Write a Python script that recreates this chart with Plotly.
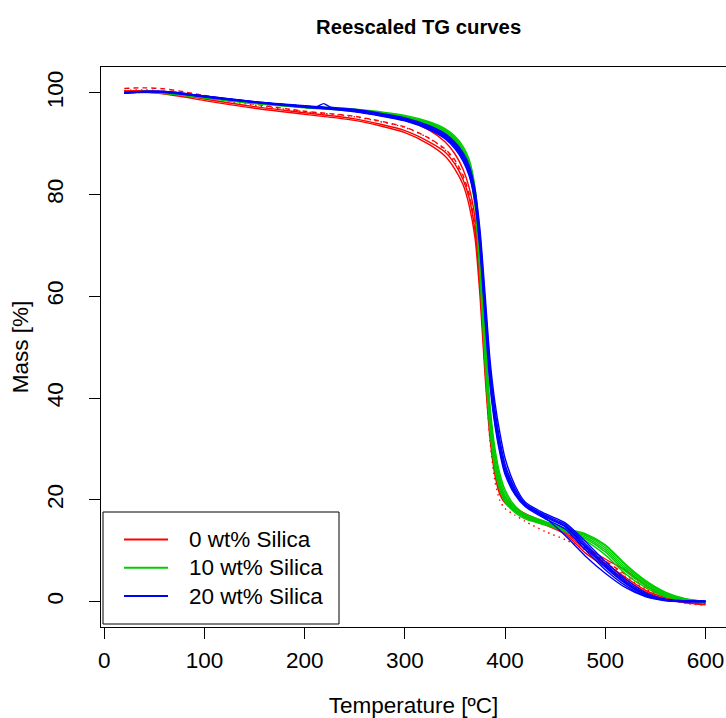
import plotly.graph_objects as go

# ---------------- data ----------------
temps = [20, 40, 60, 80, 100, 150, 200, 250, 300, 325, 340, 350, 358, 364, 370, 375,
         380, 385, 390, 395, 400, 410, 420, 440, 460, 480, 500, 520, 540, 560, 580, 600]

temps_bump = [20, 40, 60, 80, 100, 150, 200, 212, 219, 226, 250, 300, 325, 340, 350, 358,
              364, 370, 375, 380, 385, 390, 395, 400, 410, 420, 440, 460, 480, 500, 520,
              540, 560, 580, 600]

# 0 wt% Silica
red_a = [100.4, 100.4, 100.1, 99.5, 98.8, 97.3, 96.1, 94.9, 92.6, 90.3, 88.4, 86.0, 83.0, 79.5, 73.0, 62.0,
         46.5, 33.5, 25.5, 21.5, 19.8, 18.0, 16.8, 15.3, 13.6, 10.2, 7.5, 4.8, 2.3, 0.8, -0.1, -0.5]
red_b = [100.3, 100.2, 99.8, 99.2, 98.5, 97.0, 95.8, 94.6, 92.2, 89.8, 87.6, 85.0, 82.0, 78.0, 71.5, 60.0,
         44.5, 32.0, 24.8, 21.0, 19.4, 17.8, 16.6, 15.1, 13.3, 9.6, 6.9, 4.4, 2.0, 0.6, -0.2, -0.6]
red_c = [100.9, 101.0, 100.8, 100.2, 99.5, 97.8, 96.4, 95.4, 93.3, 91.0, 89.0, 86.8, 83.8, 80.2, 74.0, 63.0,
         47.5, 34.0, 26.0, 22.0, 20.2, 18.4, 17.1, 15.5, 13.8, 10.6, 8.0, 5.4, 2.8, 1.0, 0.1, -0.4]
red_d = [100.5, 100.6, 100.3, 99.8, 99.1, 97.6, 96.3, 95.3, 93.2, 91.0, 88.8, 86.4, 83.2, 79.6, 73.0, 61.5,
         45.5, 31.5, 23.5, 19.8, 18.3, 17.0, 15.8, 13.8, 12.2, 10.2, 7.8, 5.0, 2.5, 0.7, -0.3, -0.7]
red_e = [100.2, 100.4, 100.3, 99.9, 99.3, 98.1, 97.2, 96.4, 94.6, 92.6, 90.4, 88.0, 85.0, 81.5, 75.5, 65.0,
         49.0, 35.5, 27.0, 22.5, 20.5, 18.6, 17.3, 15.6, 13.9, 10.9, 8.4, 6.2, 3.2, 1.2, 0.3, -0.2]

# 10 wt% Silica
green_a = [100.0, 100.3, 100.2, 99.8, 99.3, 98.2, 97.4, 96.8, 95.6, 94.3, 93.0, 91.5, 89.5, 87.0, 81.5, 70.0,
           53.0, 38.5, 30.0, 25.0, 22.0, 18.8, 17.2, 15.8, 14.4, 13.4, 11.2, 7.4, 4.2, 1.9, 0.6, 0.0]
green_b = [100.0, 100.2, 100.1, 99.7, 99.2, 98.1, 97.3, 96.6, 95.3, 94.0, 92.6, 91.0, 88.8, 86.0, 80.0, 67.5,
           50.5, 36.5, 28.0, 23.5, 20.8, 18.2, 16.9, 15.6, 14.2, 13.0, 10.6, 6.8, 3.8, 1.6, 0.5, 0.0]
green_c = [100.1, 100.2, 100.0, 99.6, 99.1, 98.0, 97.2, 96.5, 95.1, 93.6, 92.2, 90.5, 88.2, 85.2, 78.5, 65.5,
           48.5, 34.5, 26.5, 22.3, 20.0, 17.8, 16.6, 15.3, 14.0, 12.4, 9.8, 6.0, 3.2, 1.2, 0.3, -0.1]
green_d = [100.0, 100.1, 99.9, 99.5, 99.0, 97.9, 97.1, 96.4, 95.0, 93.5, 92.0, 90.2, 87.6, 84.5, 77.5, 64.0,
           47.0, 33.5, 25.8, 21.8, 19.6, 17.5, 16.3, 15.1, 13.8, 12.0, 9.2, 5.5, 2.8, 1.0, 0.3, 0.0]
green_e = [100.1, 100.3, 100.2, 99.8, 99.2, 98.1, 97.4, 96.7, 95.4, 94.1, 92.8, 91.2, 89.0, 86.4, 80.5, 68.5,
           51.5, 37.5, 29.0, 24.2, 21.4, 18.5, 17.0, 15.7, 14.3, 13.2, 11.0, 7.2, 4.0, 1.7, 0.5, 0.1]
green_f = [100.0, 100.2, 100.0, 99.6, 99.1, 98.0, 97.2, 96.5, 95.2, 93.8, 92.4, 90.8, 88.5, 85.6, 79.0, 66.5,
           49.5, 35.5, 27.2, 22.8, 20.4, 18.0, 16.7, 15.4, 14.1, 12.7, 10.2, 6.4, 3.5, 1.4, 0.4, 0.0]

# 20 wt% Silica
blue_a = [100.0, 100.3, 100.3, 99.9, 99.4, 98.3, 97.5, 96.6, 94.9, 93.3, 91.8, 90.0, 87.8, 85.3, 80.5, 72.0,
          59.0, 46.0, 37.5, 31.5, 27.0, 22.2, 19.3, 17.0, 15.2, 11.4, 7.4, 4.1, 1.6, 0.4, 0.1, 0.1]
blue_b = [100.0, 100.2, 100.2, 99.8, 99.3, 98.2, 97.4, 96.5, 94.7, 93.0, 91.4, 89.5, 87.2, 84.6, 79.5, 70.5,
          57.0, 44.0, 35.8, 30.0, 25.8, 21.5, 19.0, 16.6, 14.7, 10.7, 6.8, 3.6, 1.3, 0.3, 0.1, 0.1]
blue_c = [100.1, 100.3, 100.3, 99.9, 99.4, 98.3, 97.4, 97.3, 97.9, 97.2, 96.8, 95.1, 93.5, 92.0, 90.3, 88.2,
          85.8, 81.0, 73.0, 60.5, 47.5, 39.0, 33.0, 28.2, 22.8, 19.6, 17.3, 15.5, 11.9, 7.9, 4.5,
          1.8, 0.5, 0.2, 0.1]
blue_d = [100.0, 100.2, 100.1, 99.7, 99.2, 98.1, 97.2, 96.3, 94.5, 92.7, 91.0, 89.0, 86.6, 83.8, 78.5, 69.0,
          55.5, 42.5, 34.5, 29.0, 25.0, 21.0, 18.7, 16.3, 14.3, 10.2, 6.3, 3.2, 1.1, 0.3, 0.0, 0.0]
blue_e = [100.1, 100.3, 100.2, 99.8, 99.3, 98.2, 97.3, 96.4, 94.6, 92.9, 91.2, 89.3, 87.0, 84.2, 79.0, 70.0,
          56.5, 43.5, 35.2, 29.5, 25.5, 21.3, 18.9, 16.5, 13.0, 9.0, 5.6, 2.8, 1.0, 0.2, 0.0, 0.0]
blue_f = [100.0, 100.2, 100.2, 99.8, 99.3, 98.2, 97.4, 96.5, 94.8, 93.1, 91.6, 89.7, 87.4, 84.9, 80.0, 71.2,
          58.0, 45.0, 36.6, 30.8, 26.4, 21.8, 19.1, 16.8, 14.9, 11.0, 7.1, 3.8, 1.4, 0.4, 0.1, 0.1]

legend_labels = ["0 wt% Silica", "10 wt% Silica", "20 wt% Silica"]
x_ticks = [0, 100, 200, 300, 400, 500, 600]
y_ticks = [0, 20, 40, 60, 80, 100]

# ---------------- styling ----------------
RED, GREEN, BLUE = "#FF0000", "#00CD00", "#0000FF"
FONT = "Liberation Sans, Arial, Helvetica, sans-serif"

series = [
    (temps, red_a, RED, "solid"),
    (temps, red_b, RED, "solid"),
    (temps, red_c, RED, "5px,4px"),
    (temps, red_d, RED, "1.5px,4px"),
    (temps, red_e, RED, "solid"),
    (temps, green_a, GREEN, "solid"),
    (temps, green_b, GREEN, "solid"),
    (temps, green_c, GREEN, "solid"),
    (temps, green_d, GREEN, "solid"),
    (temps, green_e, GREEN, "solid"),
    (temps, green_f, GREEN, "solid"),
    (temps, blue_a, BLUE, "solid"),
    (temps, blue_b, BLUE, "solid"),
    (temps_bump, blue_c, BLUE, "solid"),
    (temps, blue_d, BLUE, "solid"),
    (temps, blue_e, BLUE, "solid"),
    (temps, blue_f, BLUE, "solid"),
]

fig = go.Figure()
for xs, ys, col, dash in series:
    fig.add_trace(go.Scatter(
        x=xs, y=ys, mode="lines",
        line=dict(color=col, width=1.4, dash=dash, shape="spline", smoothing=0.7),
        showlegend=False, hoverinfo="skip",
    ))

W, H = 726, 718
ML, MR, MT, MB = 101, 0, 67, 91
pw, ph = W - ML - MR, H - MT - MB

def px_to_paper_x(px):
    return (px - ML) / pw

def px_to_paper_y(py):
    return (H - MB - py) / ph

fig.update_layout(
    width=W, height=H,
    margin=dict(l=ML, r=MR, t=MT, b=MB, pad=0),
    paper_bgcolor="white", plot_bgcolor="white",
    font=dict(family=FONT, size=22, color="black"),
    showlegend=False,
    xaxis=dict(
        range=[-3.3, 620.5], tickmode="array", tickvals=x_ticks,
        ticks="outside", ticklen=11, tickwidth=1, tickcolor="black",
        showline=True, linecolor="black", linewidth=1, mirror=True,
        showgrid=False, zeroline=False, ticklabelstandoff=2,
        tickfont=dict(family=FONT, size=22.5),
        title=dict(text="Temperature [ºC]", font=dict(family=FONT, size=22.5), standoff=25),
    ),
    yaxis=dict(
        range=[-4.97, 105.1], tickmode="array", tickvals=y_ticks,
        ticks="outside", ticklen=11, tickwidth=1, tickcolor="black",
        showline=True, linecolor="black", linewidth=1,
        showgrid=False, zeroline=False, tickangle=-90, ticklabelstandoff=17,
        tickfont=dict(family=FONT, size=22.5),
        title=dict(text="Mass [%]", font=dict(family=FONT, size=22.5), standoff=8),
    ),
)

# title
fig.add_annotation(text="<b>Reescaled TG curves</b>", xref="paper", yref="paper",
                   x=px_to_paper_x(418), y=px_to_paper_y(27), xanchor="center", yanchor="middle",
                   showarrow=False, font=dict(family=FONT, size=20.3, color="black"))

# legend (R-style box)
colors = [RED, GREEN, BLUE]
box_x0, box_x1, box_y0, box_y1 = 103, 339, 512, 624
fig.add_shape(type="rect", xref="paper", yref="paper",
              x0=px_to_paper_x(box_x0), x1=px_to_paper_x(box_x1),
              y0=px_to_paper_y(box_y1), y1=px_to_paper_y(box_y0),
              line=dict(color="black", width=1), fillcolor="white", layer="above")
row_y = [539.5, 567.8, 596.0]
for lab, col, ry in zip(legend_labels, colors, row_y):
    fig.add_shape(type="line", xref="paper", yref="paper",
                  x0=px_to_paper_x(124), x1=px_to_paper_x(168),
                  y0=px_to_paper_y(ry), y1=px_to_paper_y(ry),
                  line=dict(color=col, width=2), layer="above")
    fig.add_annotation(text=lab, xref="paper", yref="paper",
                       x=px_to_paper_x(187), y=px_to_paper_y(ry), xanchor="left", yanchor="middle",
                       showarrow=False, font=dict(family=FONT, size=22.5, color="black"))

fig.write_html("out.html")
